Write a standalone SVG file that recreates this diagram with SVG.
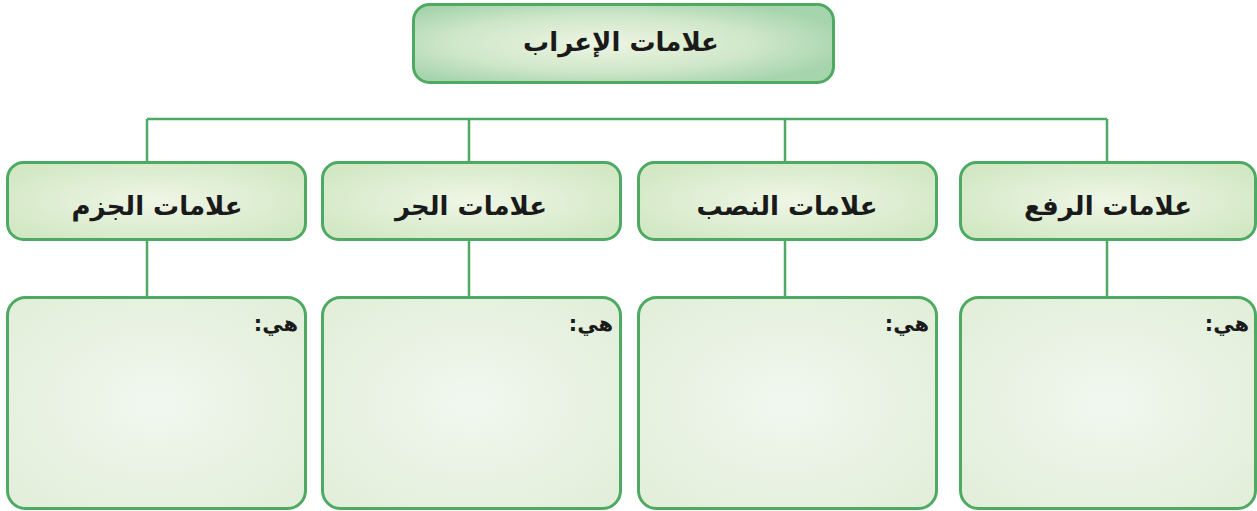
<svg xmlns="http://www.w3.org/2000/svg" width="1257" height="511" viewBox="0 0 1257 511">
<defs>
<radialGradient id="gTop" cx="0.45" cy="0.5" r="0.6">
<stop offset="0" stop-color="#eef5e4"/>
<stop offset="0.6" stop-color="#cfe7c8"/>
<stop offset="1" stop-color="#a6d4ad"/>
</radialGradient>
<radialGradient id="gMid" cx="0.5" cy="0.5" r="0.6">
<stop offset="0" stop-color="#eff6e6"/>
<stop offset="1" stop-color="#d2e8c4"/>
</radialGradient>
<radialGradient id="gBot" cx="0.5" cy="0.5" r="0.7">
<stop offset="0" stop-color="#f1f7ef"/>
<stop offset="1" stop-color="#e1eed8"/>
</radialGradient>
</defs>
<style>
.box{stroke:#4eaa62;stroke-width:3}
.line{stroke:#4eaa62;stroke-width:2.5;fill:none}
.t{font-family:"DejaVu Sans",sans-serif;font-weight:bold;font-size:26px;fill:#1a1a1a;text-anchor:middle}
.h{font-family:"DejaVu Sans",sans-serif;font-weight:bold;font-size:21px;fill:#1a1a1a;direction:rtl;unicode-bidi:embed;text-anchor:start}
</style>
<g id="connectors">
<path class="line" d="M147 119 H1107"/>
<path class="line" d="M147 119 V162 M469 119 V162 M785 119 V162 M1107 119 V162"/>
<path class="line" d="M147 240 V298 M469 240 V298 M785 240 V298 M1107 240 V298"/>
</g>
<g id="root">
<rect class="box" x="413.5" y="4.5" width="420" height="78" rx="16" fill="url(#gTop)"/>
<text class="t" x="621" y="51">علامات الإعراب</text>
</g>
<g id="n-jazm">
<rect class="box" x="7.5" y="162.5" width="298" height="77" rx="16" fill="url(#gMid)"/>
<text class="t" x="157" y="215">علامات الجزم</text>
</g>
<g id="n-jarr">
<rect class="box" x="322.5" y="162.5" width="298" height="77" rx="16" fill="url(#gMid)"/>
<text class="t" x="471" y="215">علامات الجر</text>
</g>
<g id="n-nasb">
<rect class="box" x="638.5" y="162.5" width="298" height="77" rx="16" fill="url(#gMid)"/>
<text class="t" x="787" y="215">علامات النصب</text>
</g>
<g id="n-raf">
<rect class="box" x="960.5" y="162.5" width="295" height="77" rx="16" fill="url(#gMid)"/>
<text class="t" x="1108" y="215">علامات الرفع</text>
</g>
<g id="b-jazm">
<rect class="box" x="7.5" y="297.5" width="298" height="211" rx="18" fill="url(#gBot)"/>
<text class="h" x="298" y="331">هي:</text>
</g>
<g id="b-jarr">
<rect class="box" x="322.5" y="297.5" width="298" height="211" rx="18" fill="url(#gBot)"/>
<text class="h" x="613" y="331">هي:</text>
</g>
<g id="b-nasb">
<rect class="box" x="638.5" y="297.5" width="298" height="211" rx="18" fill="url(#gBot)"/>
<text class="h" x="929" y="331">هي:</text>
</g>
<g id="b-raf">
<rect class="box" x="960.5" y="297.5" width="295" height="211" rx="18" fill="url(#gBot)"/>
<text class="h" x="1249" y="331">هي:</text>
</g>
</svg>
